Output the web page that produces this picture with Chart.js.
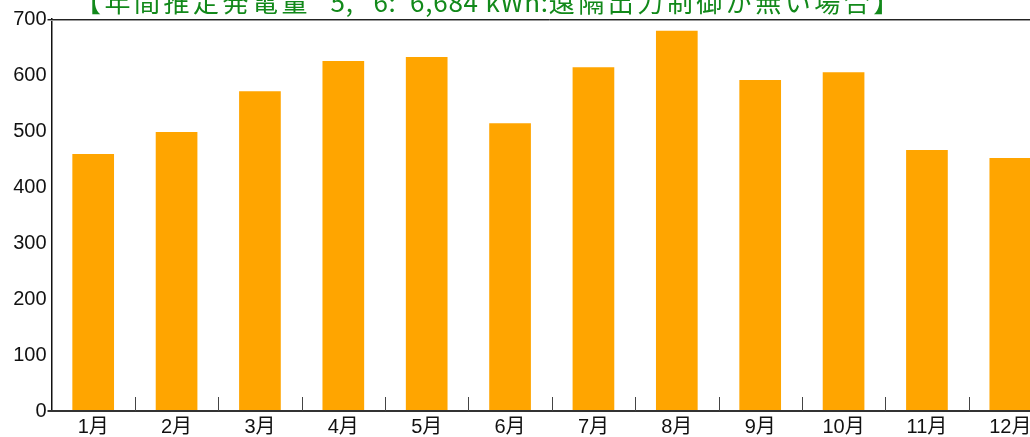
<!DOCTYPE html>
<html>
<head>
<meta charset="utf-8">
<script src="https://cdn.jsdelivr.net/npm/chart.js@4"></script>
<style>
  html, body { margin: 0; padding: 0; background: #fff; overflow: hidden; }
  #wrap { width: 1052px; height: 437px; position: relative; }
</style>
</head>
<body>
<div id="wrap"><canvas id="myChart"></canvas></div>
<script>
const months = ['1月', '2月', '3月', '4月', '5月', '6月', '7月', '8月', '9月', '10月', '11月', '12月'];
const generation = [459, 498, 571, 625, 632, 514, 614, 679, 591, 605, 466, 452];
const titleParts = ['【年間推定発電量', ' *5, *6:  6,684 kWh:', '遠隔出力制御が無い場合】'];

const labelFont = '"Liberation Sans", "Noto Sans CJK JP", sans-serif';

// title, frame lines and the small category ticks
const decor = {
  id: 'decor',
  afterDraw(chart) {
    const ctx = chart.ctx;
    const area = chart.chartArea;
    const x = chart.scales.x;
    ctx.save();

    // top border
    ctx.strokeStyle = '#222';
    ctx.lineWidth = 1;
    ctx.beginPath();
    ctx.moveTo(area.left - 4, area.top + 0.5);
    ctx.lineTo(area.right, area.top + 0.5);
    ctx.stroke();
    ctx.strokeStyle = '#999';
    ctx.beginPath();
    ctx.moveTo(area.left - 4, area.top + 1.5);
    ctx.lineTo(area.right, area.top + 1.5);
    ctx.stroke();

    // bottom axis
    ctx.strokeStyle = '#333';
    ctx.lineWidth = 2;
    ctx.beginPath();
    ctx.moveTo(area.left - 4, area.bottom);
    ctx.lineTo(area.right, area.bottom);
    ctx.stroke();

    // category separators
    ctx.lineWidth = 1;
    ctx.strokeStyle = '#444';
    for (let i = 1; i < months.length; i++) {
      const px = Math.round((x.getPixelForValue(i - 1) + x.getPixelForValue(i)) / 2) + 0.5;
      ctx.beginPath();
      ctx.moveTo(px, area.bottom - 14);
      ctx.lineTo(px, area.bottom);
      ctx.stroke();
    }

    // title
    ctx.fillStyle = '#12891a';
    ctx.font = '26px "Noto Sans CJK JP", sans-serif';
    ctx.textBaseline = 'alphabetic';
    ctx.textAlign = 'left';
    let tx = 75;
    titleParts.forEach((part, i) => {
      ctx.letterSpacing = (i === 1) ? '0.8px' : '3.5px';
      ctx.fillText(part, tx, 12);
      tx += ctx.measureText(part).width;
    });
    ctx.restore();
  }
};

new Chart(document.getElementById('myChart'), {
  type: 'bar',
  data: {
    labels: months,
    datasets: [{
      label: '発電量',
      data: generation,
      backgroundColor: '#ffa500',
      barPercentage: 0.5,
      categoryPercentage: 1.0
    }]
  },
  options: {
    responsive: true,
    maintainAspectRatio: false,
    animation: false,
    layout: { padding: { top: 19, right: 0, left: 0, bottom: 0 } },
    scales: {
      x: {
        afterFit: (s) => { s.height = 26; },
        grid: { display: false, drawTicks: false },
        border: { display: false },
        ticks: {
          color: '#111',
          padding: 4,
          maxRotation: 0,
          font: { family: labelFont, size: 20 }
        }
      },
      y: {
        min: 0,
        max: 700,
        afterFit: (s) => { s.width = 51.5; },
        grid: { display: false, drawTicks: false },
        border: { display: true, color: '#111', width: 1.5 },
        ticks: {
          stepSize: 100,
          color: '#111',
          padding: 5,
          font: { family: labelFont, size: 20 }
        }
      }
    },
    plugins: {
      legend: { display: false },
      title: { display: false },
      tooltip: { enabled: false }
    }
  },
  plugins: [decor]
});
</script>
</body>
</html>
